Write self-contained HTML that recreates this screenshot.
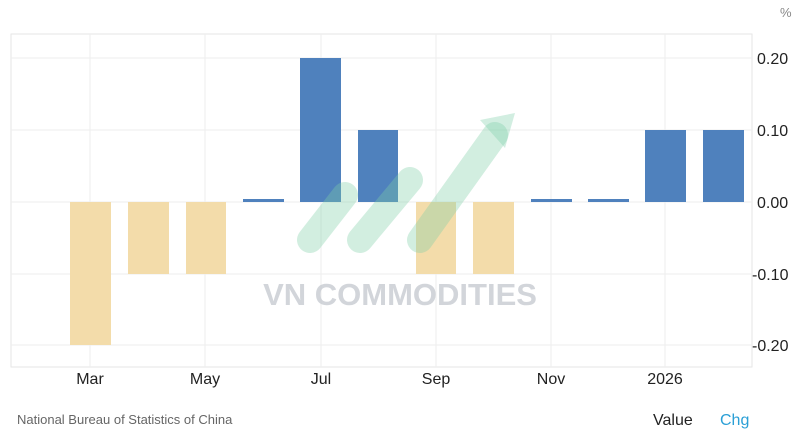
<!DOCTYPE html>
<html><head><style>
body{margin:0;background:#fff;width:800px;height:431px;overflow:hidden;font-family:"Liberation Sans",sans-serif}
</style></head><body>
<svg width="800" height="431" xmlns="http://www.w3.org/2000/svg" font-family="Liberation Sans, sans-serif">
<rect x="11" y="34" width="741" height="333" fill="none" stroke="#e6e6e6"/>
<g stroke="#eeeeee">
<line x1="90" y1="34" x2="90" y2="367"/><line x1="205" y1="34" x2="205" y2="367"/><line x1="321" y1="34" x2="321" y2="367"/><line x1="436" y1="34" x2="436" y2="367"/><line x1="551" y1="34" x2="551" y2="367"/><line x1="665" y1="34" x2="665" y2="367"/>
<line x1="11" y1="58" x2="752" y2="58"/><line x1="11" y1="130" x2="752" y2="130"/><line x1="11" y1="202" x2="752" y2="202"/><line x1="11" y1="274" x2="752" y2="274"/><line x1="11" y1="345" x2="752" y2="345"/>
</g>
<g fill="#f3dcaa">
<rect x="70" y="202" width="41" height="143"/><rect x="128" y="202" width="41" height="72"/><rect x="186" y="202" width="40" height="72"/><rect x="416" y="202" width="40" height="72"/><rect x="473" y="202" width="41" height="72"/>
</g>
<g fill="#4f81bd">
<rect x="243" y="199" width="41" height="3"/><rect x="300" y="58" width="41" height="144"/><rect x="358" y="130" width="40" height="72"/><rect x="531" y="199" width="41" height="3"/><rect x="588" y="199" width="41" height="3"/><rect x="645" y="130" width="41" height="72"/><rect x="703" y="130" width="41" height="72"/>
</g>
<g opacity="0.35" stroke="#7fcfa8" stroke-width="26" stroke-linecap="round" fill="none">
<line x1="310" y1="240" x2="345" y2="195"/><line x1="360" y1="240" x2="410" y2="180"/><line x1="420" y1="240" x2="495" y2="135"/>
</g>
<polygon points="480,120 515,113 505,148" fill="#7fcfa8" opacity="0.35"/>
<text x="400" y="305" font-size="31" font-weight="bold" fill="#c7cbd1" text-anchor="middle" opacity="0.8">VN COMMODITIES</text>
<g font-size="16" fill="#222">
<text x="757" y="64">0.20</text><text x="757" y="136">0.10</text><text x="757" y="208">0.00</text><text x="752" y="280">-0.10</text><text x="752" y="351">-0.20</text>
<text x="90" y="384" text-anchor="middle">Mar</text><text x="205" y="384" text-anchor="middle">May</text><text x="321" y="384" text-anchor="middle">Jul</text><text x="436" y="384" text-anchor="middle">Sep</text><text x="551" y="384" text-anchor="middle">Nov</text><text x="665" y="384" text-anchor="middle">2026</text>
<text x="653" y="425">Value</text>
</g>
<text x="720" y="425" font-size="16" fill="#2a9fd6">Chg</text>
<text x="780" y="17" font-size="13" fill="#888">%</text>
<text x="17" y="424" font-size="13" fill="#666">National Bureau of Statistics of China</text>
</svg>
</body></html>
